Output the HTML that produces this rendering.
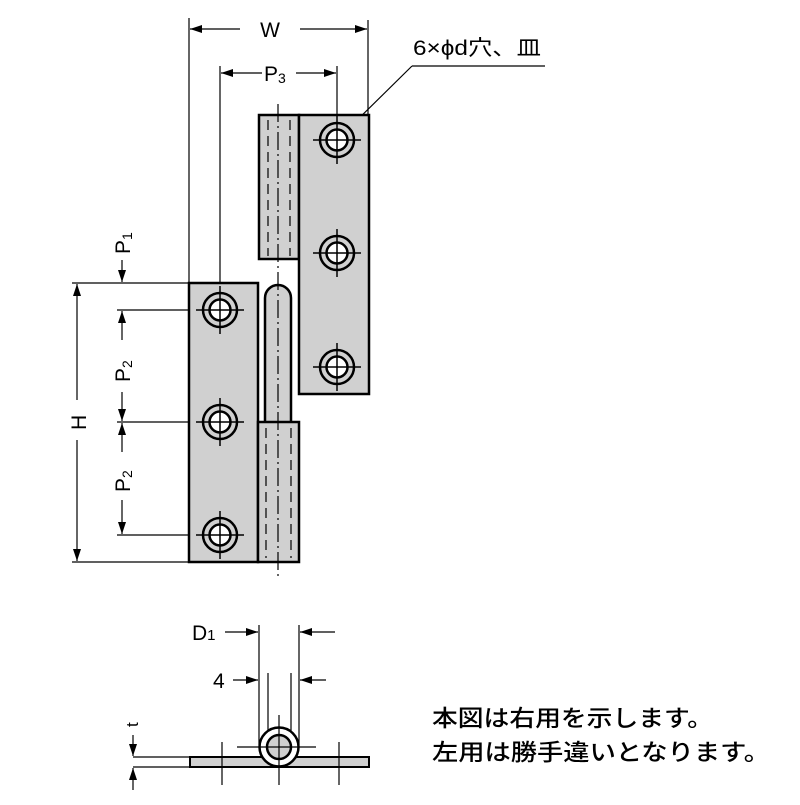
<!DOCTYPE html>
<html><head><meta charset="utf-8"><style>body{margin:0;background:#fff} svg text{font-family:"Liberation Sans","Noto Sans CJK JP",sans-serif}</style></head>
<body>
<svg width="800" height="800" viewBox="0 0 800 800" xmlns="http://www.w3.org/2000/svg">
<defs>
<marker id="a" markerWidth="12" markerHeight="8" refX="12" refY="4" orient="auto" markerUnits="userSpaceOnUse"><path d="M0,0 L12,4 L0,8z" fill="#000"/></marker>
<g id="hole">
<circle r="17" fill="#d0d0d0" stroke="#000" stroke-width="2.5"/>
<circle r="10.5" fill="#fff" stroke="#000" stroke-width="2.5"/>
<line x1="-24" y1="0" x2="24" y2="0" stroke="#000" stroke-width="1.5"/>
<line x1="0" y1="-24" x2="0" y2="24" stroke="#000" stroke-width="1.5"/>
</g>
</defs>
<g stroke="#000" stroke-width="1.2" fill="none">
<line x1="189" y1="18" x2="189" y2="283"/>
<line x1="368" y1="20" x2="368" y2="115"/>
<line x1="240" y1="29" x2="190" y2="29" marker-end="url(#a)"/>
<line x1="300" y1="29" x2="367" y2="29" marker-end="url(#a)"/>
<line x1="220" y1="66" x2="220" y2="300"/>
<line x1="337" y1="66" x2="337" y2="125"/>
<line x1="262" y1="73" x2="221" y2="73" marker-end="url(#a)"/>
<line x1="296" y1="73" x2="336" y2="73" marker-end="url(#a)"/>
<line x1="545" y1="66" x2="412" y2="66"/>
<line x1="412" y1="66" x2="346" y2="131" marker-end="url(#a)"/>
<line x1="72" y1="283" x2="189" y2="283"/>
<line x1="72" y1="562" x2="189" y2="562"/>
<line x1="77" y1="400" x2="77" y2="284" marker-end="url(#a)"/>
<line x1="77" y1="440" x2="77" y2="561" marker-end="url(#a)"/>
<line x1="117" y1="310" x2="200" y2="310"/>
<line x1="117" y1="422" x2="200" y2="422"/>
<line x1="117" y1="535" x2="200" y2="535"/>
<line x1="122" y1="260" x2="122" y2="282" marker-end="url(#a)"/>
<line x1="122" y1="340" x2="122" y2="311" marker-end="url(#a)"/>
<line x1="122" y1="392" x2="122" y2="421" marker-end="url(#a)"/>
<line x1="122" y1="452" x2="122" y2="423" marker-end="url(#a)"/>
<line x1="122" y1="500" x2="122" y2="534" marker-end="url(#a)"/>
</g>
<g stroke="#000" stroke-width="2.5" fill="#d0d0d0">
<rect x="259" y="115" width="40" height="144"/>
<rect x="299" y="115" width="70" height="279"/>
<rect x="189" y="283" width="69" height="279"/>
<path d="M265,425 L265,298 A13,13 0 0 1 291,298 L291,425"/>
<rect x="258" y="422" width="41" height="140"/>
</g>
<g stroke="#000" stroke-width="1.2" fill="none">
<line x1="268" y1="120" x2="268" y2="256" stroke-dasharray="10,6"/>
<line x1="290" y1="120" x2="290" y2="256" stroke-dasharray="10,6"/>
<line x1="266" y1="428" x2="266" y2="558" stroke-dasharray="10,6"/>
<line x1="291" y1="428" x2="291" y2="558" stroke-dasharray="10,6"/>
<line x1="278" y1="104" x2="278" y2="580" stroke-dasharray="18,4,2,4"/>
</g>
<use href="#hole" x="337" y="140"/>
<use href="#hole" x="337" y="253"/>
<use href="#hole" x="337" y="367"/>
<use href="#hole" x="220" y="310"/>
<use href="#hole" x="220" y="422"/>
<use href="#hole" x="220" y="535"/>
<g font-size="21" fill="#000">
<text x="270" y="37" text-anchor="middle">W</text>
<text x="264" y="81">P<tspan font-size="14" dy="2">3</tspan></text>
<text x="413" y="55" textLength="128" lengthAdjust="spacingAndGlyphs">6×ϕd穴、皿</text>
<text transform="translate(130,254) rotate(-90)">P<tspan font-size="14" dy="2">1</tspan></text>
<text transform="translate(130,382) rotate(-90)">P<tspan font-size="14" dy="2">2</tspan></text>
<text transform="translate(130,492) rotate(-90)">P<tspan font-size="14" dy="2">2</tspan></text>
<text transform="translate(86,430) rotate(-90)">H</text>
<text x="192" y="640">D<tspan font-size="15">1</tspan></text>
<text x="213" y="688">4</text>
<text transform="translate(138,727) rotate(-90)" font-size="17">t</text>
</g>
<g stroke="#000" stroke-width="1.2" fill="none">
<line x1="259" y1="625" x2="259" y2="745"/>
<line x1="299" y1="625" x2="299" y2="745"/>
<line x1="225" y1="632" x2="258" y2="632" marker-end="url(#a)"/>
<line x1="335" y1="632" x2="300" y2="632" marker-end="url(#a)"/>
<line x1="268" y1="673" x2="268" y2="745"/>
<line x1="291" y1="673" x2="291" y2="745"/>
<line x1="233" y1="680" x2="258" y2="680" marker-end="url(#a)"/>
<line x1="326" y1="680" x2="300" y2="680" marker-end="url(#a)"/>
<line x1="133" y1="757" x2="190" y2="757"/>
<line x1="133" y1="767" x2="190" y2="767"/>
<line x1="133" y1="735" x2="133" y2="756" marker-end="url(#a)"/>
<line x1="133" y1="790" x2="133" y2="768" marker-end="url(#a)"/>
</g>
<rect x="190" y="757" width="179" height="10" fill="#d0d0d0" stroke="#000" stroke-width="2"/>
<circle cx="279" cy="747" r="19.5" fill="#fff" stroke="#000" stroke-width="2.5"/>
<circle cx="279" cy="747" r="12" fill="#d0d0d0" stroke="#000" stroke-width="2.5"/>
<g stroke="#000" stroke-width="1.2">
<line x1="279" y1="715" x2="279" y2="785"/>
<line x1="237" y1="747" x2="316" y2="747"/>
<line x1="222" y1="742" x2="222" y2="785"/>
<line x1="339" y1="742" x2="339" y2="785"/>
</g>
<g font-size="23" fill="#000" font-weight="500">
<text x="432" y="726" textLength="281" lengthAdjust="spacingAndGlyphs">本図は右用を示します。</text>
<text x="432" y="760" textLength="338" lengthAdjust="spacingAndGlyphs">左用は勝手違いとなります。</text>
</g>
</svg>
</body></html>
